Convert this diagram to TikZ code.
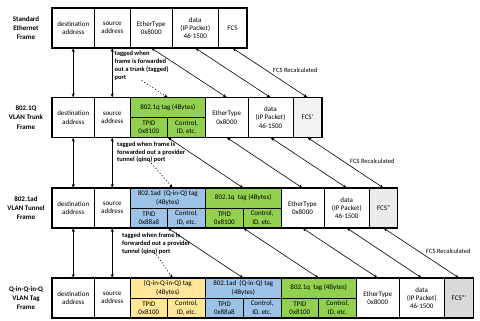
\documentclass[tikz,border=0pt]{standalone}
\usepackage{fontspec}
\setmainfont{Carlito}
\usetikzlibrary{arrows.meta,positioning}
\definecolor{tagGreen}{HTML}{92D050}
\definecolor{tagBlue}{HTML}{9DC3E6}
\definecolor{tagYellow}{HTML}{FFE699}
\definecolor{fcsOne}{HTML}{F2F2F2}
\definecolor{fcsTwo}{HTML}{EBEBEB}
\definecolor{fcsThree}{HTML}{D9D9D9}

\begin{document}
\begin{tikzpicture}[x=1pt,y=-1pt,>={Stealth[length=4pt,width=3pt]},
  cell/.style={draw,line width=0.7pt,minimum height=40pt,inner sep=1pt,outer sep=0pt,align=center,font=\fontsize{7}{8.3}\selectfont},
  half/.style={cell,minimum height=20pt,minimum width=37.75pt},
  taghead/.style={cell,minimum height=20pt,minimum width=75.5pt},
  frame/.style={line width=1.3pt},
  rowlabel/.style={align=center,font=\fontsize{7}{9.3}\selectfont\bfseries},
  note/.style={align=left,anchor=north west,inner sep=0pt,font=\fontsize{6.5}{7.8}\selectfont\bfseries},
  recalc/.style={anchor=west,inner sep=0pt,font=\fontsize{6.5}{8}\selectfont},
  link/.style={<->,line width=0.6pt},
  hint/.style={->,line width=0.6pt,dash pattern=on 1.2pt off 2pt}]
  \fill[white] (0,0) rectangle (480,321);
  \useasboundingbox (0,0) rectangle (480,321);
  \foreach \r/\y in {1/8,2/97.5,3/188,4/278}{
    \node[cell,minimum width=42.5pt,anchor=north west] (dst\r) at (52,\y) {destination\\address};
    \node[cell,minimum width=35.5pt,right=0pt of dst\r] (src\r) {source\\address};
  }
  \node[rowlabel] (lab1) at (26,0 |- dst1) {Standard\\Ethernet\\Frame};
  \node[rowlabel] (lab2) at (26,0 |- dst2) {802.1Q\\VLAN Trunk\\Frame};
  \node[rowlabel] (lab3) at (26,0 |- dst3) {802.1ad\\VLAN Tunnel\\Frame};
  \node[rowlabel] (lab4) at (26,0 |- dst4) {Q-in-Q-in-Q\\VLAN Tag\\Frame};

  \node[cell,minimum width=42.5pt,right=0pt of src1] (eth1) {EtherType\\0x8000};
  \node[cell,minimum width=45.5pt,right=0pt of eth1] (pay1) {data\\(IP Packet)\\46-1500};
  \node[cell,minimum width=29pt,right=0pt of pay1] (fcs1) {FCS};

  \node[taghead,fill=tagGreen,anchor=north west] (q2) at (src2.north east) {802.1q tag (4Bytes)};
  \node[half,fill=tagGreen,anchor=north west] (q2id) at (q2.south west) {TPID\\0x8100};
  \node[half,fill=tagGreen,right=0pt of q2id] (q2ctl) {Control,\\ID, etc.};
  \node[cell,minimum width=42.5pt,anchor=north west] (eth2) at (q2.north east) {EtherType\\0x8000};
  \node[cell,minimum width=45pt,right=0pt of eth2] (pay2) {data\\(IP Packet)\\46-1500};
  \node[cell,minimum width=29pt,fill=fcsOne,right=0pt of pay2] (fcs2) {FCS'};

  \node[taghead,fill=tagBlue,anchor=north west] (ad3) at (src3.north east) {802.1ad\ \ (Q-in-Q) tag\\(4Bytes)};
  \node[half,fill=tagBlue,anchor=north west] (ad3id) at (ad3.south west) {TPID\\0x88a8};
  \node[half,fill=tagBlue,right=0pt of ad3id] (ad3ctl) {Control,\\ID, etc.};
  \node[taghead,fill=tagGreen,anchor=north west] (q3) at (ad3.north east) {802.1q\ \ tag (4Bytes)};
  \node[half,fill=tagGreen,anchor=north west] (q3id) at (q3.south west) {TPID\\0x8100};
  \node[half,fill=tagGreen,right=0pt of q3id] (q3ctl) {Control,\\ID, etc.};
  \node[cell,minimum width=43pt,anchor=north west] (eth3) at (q3.north east) {EtherType\\0x8000};
  \node[cell,minimum width=45.5pt,right=0pt of eth3] (pay3) {data\\(IP Packet)\\46-1500};
  \node[cell,minimum width=28pt,fill=fcsTwo,right=0pt of pay3] (fcs3) {FCS''};

  \node[taghead,fill=tagYellow,anchor=north west] (qqq4) at (src4.north east) {(Q-in-Q-in-Q) tag\\(4Bytes)};
  \node[half,fill=tagYellow,anchor=north west] (qqq4id) at (qqq4.south west) {TPID\\0x8100};
  \node[half,fill=tagYellow,right=0pt of qqq4id] (qqq4ctl) {Control,\\ID, etc.};
  \node[taghead,fill=tagBlue,anchor=north west] (ad4) at (qqq4.north east) {802.1ad\ \ (Q-in-Q) tag\\(4Bytes)};
  \node[half,fill=tagBlue,anchor=north west] (ad4id) at (ad4.south west) {TPID\\0x88a8};
  \node[half,fill=tagBlue,right=0pt of ad4id] (ad4ctl) {Control,\\ID, etc.};
  \node[taghead,fill=tagGreen,anchor=north west] (q4) at (ad4.north east) {802.1q\ \ tag (4Bytes)};
  \node[half,fill=tagGreen,anchor=north west] (q4id) at (q4.south west) {TPID\\0x8100};
  \node[half,fill=tagGreen,right=0pt of q4id] (q4ctl) {Control,\\ID, etc.};
  \node[cell,minimum width=42.5pt,anchor=north west] (eth4) at (q4.north east) {EtherType\\0x8000};
  \node[cell,minimum width=45.5pt,right=0pt of eth4] (pay4) {data\\(IP Packet)\\46-1500};
  \node[cell,minimum width=29pt,fill=fcsThree,right=0pt of pay4] (fcs4) {FCS'''};

  \foreach \r in {1,...,4}{\draw[frame] (dst\r.north west) rectangle (fcs\r.south east);}

  \foreach \a/\b in {1/2,2/3,3/4}{
    \draw[link] (dst\a) -- (dst\b);
    \draw[link] (src\a) -- (src\b);
    \draw[link] (eth\a.south) -- (eth\b.north);
    \draw[link] (pay\a.south) -- (pay\b.north);
    \draw[link] (fcs\a.south) -- (fcs\b.north);
  }
  \draw[link] (q2id.south east) -- (q3.north);
  \draw[link] (ad3id.south east) -- (ad4.north);
  \draw[link] (q3id.south east) -- (q4.north);

  \node[note] (note1) at (114.5,51) {tagged when\\frame is forwarded\\out a trunk (tagged)\\port};
  \node[note] (note2) at (117,141.5) {tagged when frame is\\forwarded out a provider\\tunnel (qinq) port};
  \node[note] (note3) at (122,233) {tagged when frame is\\forwarded out a provider\\tunnel (qinq) port};
  \draw[hint] (note1.south) -- (q2.north);
  \draw[hint] (note2.south) -- ([xshift=5pt]ad3.north);
  \draw[hint] (note3.south) -- ([xshift=5pt]qqq4.north);

  \node[recalc] (rc1) at (273,70.5) {FCS Recalculated};
  \node[recalc] (rc2) at (350,161) {FCS Recalculated};
  \node[recalc] (rc3) at (426,251) {FCS Recalculated};
\end{tikzpicture}
\end{document}
